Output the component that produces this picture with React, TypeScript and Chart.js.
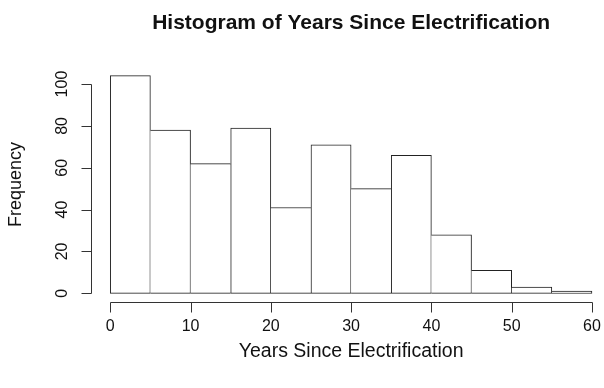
import React, { useEffect, useRef } from 'react';
import { Chart, registerables } from 'chart.js';

Chart.register(...registerables);

// ---- data ----
const binStarts = [0, 5, 10, 15, 20, 25, 30, 35, 40, 45, 50, 55];
const binWidth = 5;
const frequencies = [104, 78, 62, 79, 41, 71, 50, 66, 28, 11, 3, 1];
const xTicks = [0, 10, 20, 30, 40, 50, 60];
const yTicks = [0, 20, 40, 60, 80, 100];
const xAxisRange = [-2.4, 61.5];
const titleText = 'Histogram of Years Since Electrification';
const xTitleText = 'Years Since Electrification';
const yTitleText = 'Frequency';

const FONT = '"Liberation Sans", Arial, Helvetica, sans-serif';

const rAxesPlugin = {
  id: 'rAxes',
  afterDraw(chart: any) {
    const { ctx, chartArea, scales } = chart;
    const xs = scales.x;
    const ys = scales.y;
    const tickLen = 10;
    ctx.save();
    ctx.strokeStyle = '#333';
    ctx.lineWidth = 1;
    ctx.fillStyle = '#111';

    // x axis
    const yb = Math.round(chartArea.bottom) + 0.5;
    const xa = Math.round(xs.getPixelForValue(xTicks[0])) + 0.5;
    const xz = Math.round(xs.getPixelForValue(xTicks[xTicks.length - 1])) + 0.5;
    ctx.beginPath();
    ctx.moveTo(xa, yb);
    ctx.lineTo(xz, yb);
    xTicks.forEach((v) => {
      const px = Math.round(xs.getPixelForValue(v)) + 0.5;
      ctx.moveTo(px, yb);
      ctx.lineTo(px, yb + tickLen);
    });
    ctx.stroke();
    ctx.font = `16px ${FONT}`;
    ctx.textAlign = 'center';
    ctx.textBaseline = 'middle';
    xTicks.forEach((v) => {
      ctx.fillText(String(v), xs.getPixelForValue(v), yb + 24.5);
    });

    // y axis
    const xl = Math.round(chartArea.left) + 0.5;
    const ya = Math.round(ys.getPixelForValue(yTicks[0])) + 0.5;
    const yz = Math.round(ys.getPixelForValue(yTicks[yTicks.length - 1])) + 0.5;
    ctx.beginPath();
    ctx.moveTo(xl, ya);
    ctx.lineTo(xl, yz);
    yTicks.forEach((v) => {
      const py = Math.round(ys.getPixelForValue(v)) + 0.5;
      ctx.moveTo(xl, py);
      ctx.lineTo(xl - tickLen, py);
    });
    ctx.stroke();
    yTicks.forEach((v) => {
      ctx.save();
      ctx.translate(xl - 29, ys.getPixelForValue(v));
      ctx.rotate(-Math.PI / 2);
      ctx.fillText(String(v), 0, 0);
      ctx.restore();
    });

    // titles
    const dataMid = (xTicks[0] + xTicks[xTicks.length - 1]) / 2;
    const cx = xs.getPixelForValue(dataMid);
    const cy = (chartArea.top + chartArea.bottom) / 2;
    ctx.font = `bold 21px ${FONT}`;
    ctx.fillText(titleText, cx, 23);
    ctx.font = `19.5px ${FONT}`;
    ctx.fillText(xTitleText, cx, 352);
    ctx.font = `18px ${FONT}`;
    ctx.save();
    ctx.translate(16, cy);
    ctx.rotate(-Math.PI / 2);
    ctx.fillText(yTitleText, 0, 0);
    ctx.restore();

    ctx.restore();
  },
};

export default function App() {
  const canvasRef = useRef<HTMLCanvasElement | null>(null);

  useEffect(() => {
    const canvas = canvasRef.current;
    if (!canvas) return;
    const yMax = Math.max(...frequencies);
    const yPad = yMax * 0.04;
    const n = frequencies.length;

    const borderWidths = frequencies.map((f, i) => ({
      top: 1,
      bottom: 1,
      left: i === 0 || f >= frequencies[i - 1] ? 1 : 0,
      right: i === n - 1 || f > frequencies[i + 1] ? 1 : 0,
    }));

    const chart = new Chart(canvas, {
      type: 'bar',
      data: {
        datasets: [
          {
            data: binStarts.map((s, i) => ({ x: s + binWidth / 2, y: frequencies[i] })),
            backgroundColor: '#ffffff',
            borderColor: '#222',
            borderWidth: borderWidths as any,
            borderSkipped: false,
            barPercentage: 1,
            categoryPercentage: 1,
          },
        ],
      },
      options: {
        responsive: false,
        animation: false,
        events: [],
        layout: { padding: { left: 91, right: 0, top: 67, bottom: 86 } },
        plugins: {
          legend: { display: false },
          title: { display: false },
          tooltip: { enabled: false },
        },
        scales: {
          x: {
            type: 'linear',
            display: false,
            offset: false,
            grid: { offset: false },
            min: xAxisRange[0],
            max: xAxisRange[1],
            afterBuildTicks: (scale: any) => {
              scale.ticks = xTicks.map((v) => ({ value: v }));
            },
          },
          y: {
            type: 'linear',
            display: false,
            min: -yPad,
            max: yMax + yPad,
            afterBuildTicks: (scale: any) => {
              scale.ticks = yTicks.map((v) => ({ value: v }));
            },
          },
        },
      },
      plugins: [rAxesPlugin],
    });
    return () => chart.destroy();
  }, []);

  return (
    <div style={{ position: 'fixed', left: 0, top: 0, width: 604, height: 388, background: '#fff' }}>
      <canvas ref={canvasRef} width={604} height={388} style={{ display: 'block' }} />
    </div>
  );
}
